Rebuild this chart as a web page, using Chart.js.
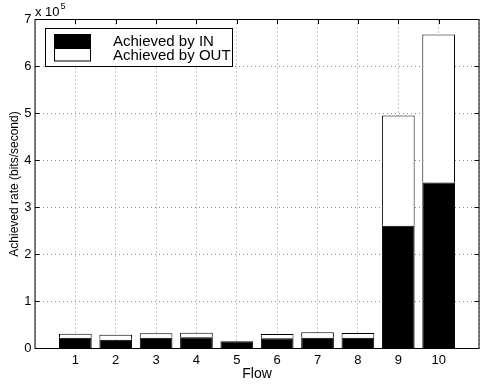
<!DOCTYPE html>
<html>
<head>
<meta charset="utf-8">
<script src="https://cdn.jsdelivr.net/npm/chart.js@4.4.0/dist/chart.umd.min.js"></script>
<style>
html, body { margin: 0; padding: 0; background: #fff; overflow: hidden; }
#wrap { width: 483px; height: 384px; }
</style>
</head>
<body>
<div id="wrap"><canvas id="chartCanvas"></canvas></div>
<script>
// values, bits/second
const flows = [1, 2, 3, 4, 5, 6, 7, 8, 9, 10]
const inRate = [23000, 18700, 23000, 23800, 15500, 21700, 23000, 23000, 261000, 353000]
const outRate = [8500, 10600, 9300, 9800, 500, 9100, 11400, 10000, 235000, 315000]
const seriesLabels = ['Achieved by IN', 'Achieved by OUT']
const yTickValues = [0, 1, 2, 3, 4, 5, 6, 7] // x 10^5
const yExponent = 5

const FONT = "'Liberation Sans', Arial, Helvetica, sans-serif"

function dataset(label, color, data) {
	return {
		label: label,
		data: data,
		backgroundColor: color,
		borderColor: '#000',
		borderWidth: 1,
		categoryPercentage: 1.0,
		barPercentage: 0.81
	}
}

// box, inward ticks, legend and the exponent, drawn the matlab way
const matlabFrame = {
	id: 'matlabFrame',
	afterDatasetsDraw(chart) {
		const ctx = chart.ctx
		const a = chart.chartArea
		const xs = chart.scales.x
		const ys = chart.scales.y
		const tl = 4.5
		ctx.save()
		ctx.strokeStyle = '#000'
		ctx.lineWidth = 1
		ctx.beginPath()
		flows.forEach(function (f) {
			let px = Math.round(xs.getPixelForValue(f)) + 0.5
			ctx.moveTo(px, a.top); ctx.lineTo(px, a.top + tl)
			ctx.moveTo(px, a.bottom); ctx.lineTo(px, a.bottom - tl)
		})
		yTickValues.forEach(function (v) {
			let py = ys.getPixelForValue(v * Math.pow(10, yExponent))
			ctx.moveTo(a.left, py); ctx.lineTo(a.left + tl, py)
			ctx.moveTo(a.right, py); ctx.lineTo(a.right - tl, py)
		})
		ctx.stroke()
		ctx.strokeRect(a.left, a.top, a.right - a.left, a.bottom - a.top)

		// legend
		let lx = 45.5, ly = 28.5, lw = 187, lh = 38
		ctx.fillStyle = '#fff'
		ctx.fillRect(lx, ly, lw, lh)
		ctx.strokeRect(lx, ly, lw, lh)
		let ds = chart.data.datasets
		let rowY = [34.5, 48.5]
		let rowH = [14, 12.5]
		ctx.font = '15px ' + FONT
		ctx.textBaseline = 'alphabetic'
		ctx.textAlign = 'left'
		for (let i = 0; i < ds.length; i++) {
			ctx.fillStyle = ds[i].backgroundColor
			ctx.fillRect(54.5, rowY[i], 36, rowH[i])
			ctx.strokeRect(54.5, rowY[i], 36, rowH[i])
			ctx.fillStyle = '#000'
			ctx.fillText(ds[i].label, 113, rowY[i] + 11)
		}

		// exponent above the y axis
		ctx.font = '13px ' + FONT
		ctx.fillText('x 10', a.left, 16)
		let w = ctx.measureText('x 10').width
		ctx.font = '9px ' + FONT
		ctx.fillText(String(yExponent), a.left + w + 1, 9)
		ctx.restore()
	}
}

function initChart() {
	Chart.defaults.color = '#000'
	Chart.defaults.font.family = FONT
	var config = {
		type: 'bar',
		data: {
			labels: flows,
			datasets: [
				dataset(seriesLabels[0], '#000', inRate),
				dataset(seriesLabels[1], '#fff', outRate)
			]
		},
		options: {
			responsive: true,
			maintainAspectRatio: false,
			animation: false,
			layout: { padding: { top: 19.5, right: 0.5, left: 0, bottom: 0 } },
			plugins: { legend: { display: false }, tooltip: { enabled: false } },
			scales: {
				x: {
					type: 'linear',
					stacked: true,
					offset: false,
					min: 0,
					max: flows.length + 1,
					grid: { offset: false, color: '#8c8c8c', drawTicks: false },
					border: { display: false, dash: [1, 3] },
					ticks: {
						stepSize: 1,
						autoSkip: false,
						maxRotation: 0,
						padding: 4,
						font: { size: 13 },
						callback: function (v) { return flows.indexOf(v) >= 0 ? String(v) : '' }
					},
					title: { display: true, text: 'Flow', font: { size: 14 }, padding: { top: 0, bottom: 1.5 } },
					afterFit: function (s) { s.height = 35.5 }
				},
				y: {
					stacked: true,
					min: 0,
					max: yTickValues[yTickValues.length - 1] * Math.pow(10, yExponent),
					grid: { color: '#8c8c8c', drawTicks: false },
					border: { display: false, dash: [1, 3] },
					ticks: {
						stepSize: Math.pow(10, yExponent),
						padding: 3.5,
						font: { size: 13 },
						callback: function (v) { return String(Math.round(v / Math.pow(10, yExponent))) }
					},
					title: { display: true, text: 'Achieved rate (bits/second)', font: { size: 12 }, padding: { top: 7, bottom: 0 } },
					afterFit: function (s) { s.width = 35 }
				}
			}
		},
		plugins: [matlabFrame]
	}
	var ctx = document.getElementById('chartCanvas')
	window.myChart = new Chart(ctx, config)
}

initChart()
</script>
</body>
</html>
